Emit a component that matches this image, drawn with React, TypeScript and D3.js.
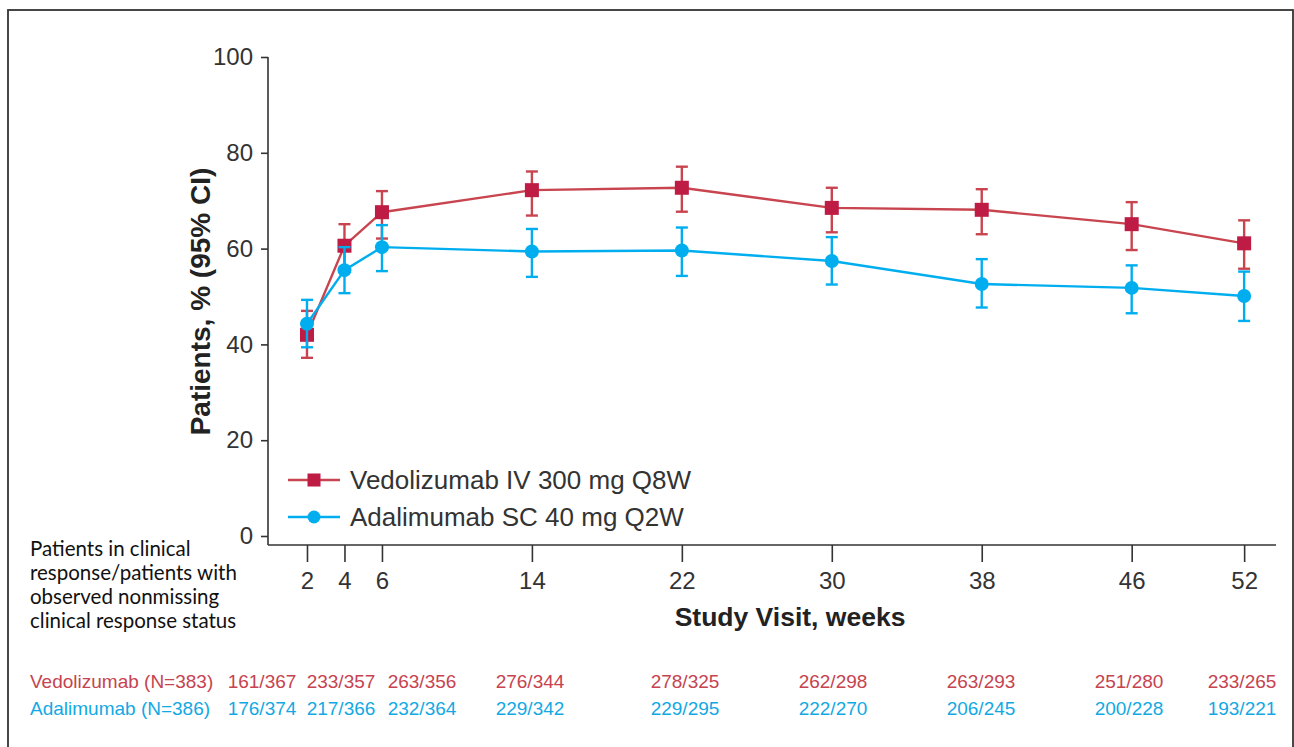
import { useEffect, useRef } from 'react';
import * as d3 from 'd3';

// Chart data
const weeks = [2, 4, 6, 14, 22, 30, 38, 46, 52];
const vedoMean = [42.0, 60.6, 67.6, 72.2, 72.7, 68.5, 68.1, 65.1, 61.1];
const vedoLow = [37.2, 56.0, 62.1, 66.9, 67.7, 63.4, 63.0, 59.7, 55.8];
const vedoHigh = [47.0, 65.1, 72.0, 76.1, 77.1, 72.7, 72.4, 69.7, 65.9];
const adaMean = [44.3, 55.5, 60.3, 59.4, 59.6, 57.4, 52.6, 51.8, 50.1];
const adaLow = [39.4, 50.7, 55.3, 54.1, 54.3, 52.5, 47.7, 46.5, 44.9];
const adaHigh = [49.3, 60.3, 64.9, 64.1, 64.4, 62.4, 57.8, 56.5, 55.2];
const yTicks = [0, 20, 40, 60, 80, 100];
const seriesNames = ['Vedolizumab IV 300 mg Q8W', 'Adalimumab SC 40 mg Q2W'];
const tableLabels = ['Vedolizumab (N=383)', 'Adalimumab (N=386)'];
const vedoCounts = ['161/367', '233/357', '263/356', '276/344', '278/325', '262/298', '263/293', '251/280', '233/265'];
const adaCounts = ['176/374', '217/366', '232/364', '229/342', '229/295', '222/270', '206/245', '200/228', '193/221'];
const noteLines = ['Patients in clinical', 'response/patients with', 'observed nonmissing', 'clinical response status'];

// Layout
const W = 1294;
const H = 747;
const axisX = 268;
const axisY = 545;
const RED = '#be1b45';
const RED_LINE = '#c8454f';
const BLUE = '#00aeef';
const font = 'Liberation Sans, Arial, Helvetica, sans-serif';
// table columns: early visits are spread apart, later ones sit under their ticks
const tableCenters = [262, 341, 422, 530, 685, 833, 981, 1129, 1242];

const x = d3.scaleLinear().domain([0, 53.7]).range([269.5, 1276]);
const y = d3.scaleLinear().domain([0, 100]).range([536, 57]);

const series = [
  { name: seriesNames[0], mean: vedoMean, low: vedoLow, high: vedoHigh, color: RED, line: RED_LINE, shape: 'square' },
  { name: seriesNames[1], mean: adaMean, low: adaLow, high: adaHigh, color: BLUE, line: BLUE, shape: 'circle' },
];

const Marker = ({ cx, cy, shape, color, size }: { cx: number; cy: number; shape: string; color: string; size: number }) =>
  shape === 'square' ? (
    <rect x={cx - size / 2} y={cy - size / 2} width={size} height={size} fill={color} />
  ) : (
    <circle cx={cx} cy={cy} r={size / 2} fill={color} />
  );

const App = () => {
  const xAxisRef = useRef<SVGGElement>(null);
  const yAxisRef = useRef<SVGGElement>(null);

  useEffect(() => {
    if (xAxisRef.current) {
      const g = d3.select(xAxisRef.current);
      g.selectAll('*').remove();
      g.call(d3.axisBottom(x).tickValues(weeks).tickSize(17).tickPadding(10).tickFormat(d3.format('d')));
      g.select('.domain').remove();
      g.selectAll('line').attr('stroke', '#333').attr('stroke-width', 1.6);
      g.selectAll('text').attr('font-size', 24).attr('font-family', font).attr('fill', '#333');
    }
    if (yAxisRef.current) {
      const g = d3.select(yAxisRef.current);
      g.selectAll('*').remove();
      g.call(d3.axisLeft(y).tickValues(yTicks).tickSize(7).tickPadding(8));
      g.select('.domain').remove();
      g.selectAll('line').attr('stroke', '#333').attr('stroke-width', 1.6);
      g.selectAll('text').attr('font-size', 24).attr('font-family', font).attr('fill', '#333');
    }
  }, []);

  const line = d3.line<number>().x((_, i) => x(weeks[i])).y((d) => y(d));

  return (
    <svg width={W} height={H} style={{ position: 'absolute', left: 0, top: 0, background: '#fff' }}>
      <rect x={8} y={10} width={1285} height={760} fill="none" stroke="#333" strokeWidth={1.8} />

      {/* axes */}
      <line x1={axisX} x2={axisX} y1={y(100)} y2={axisY} stroke="#333" strokeWidth={1.6} />
      <line x1={axisX} x2={x.range()[1]} y1={axisY} y2={axisY} stroke="#333" strokeWidth={1.6} />
      <g ref={xAxisRef} transform={`translate(0,${axisY})`} />
      <g ref={yAxisRef} transform={`translate(${axisX},0)`} />

      <text
        transform={`translate(210,${(163 + 440) / 2}) rotate(-90)`}
        textAnchor="middle"
        fontFamily={font}
        fontWeight="bold"
        fontSize={28}
        fill="#222"
      >
        Patients, % (95% CI)
      </text>
      <text x={790} y={626} textAnchor="middle" fontFamily={font} fontWeight="bold" fontSize={26.5} fill="#222">
        Study Visit, weeks
      </text>

      {/* series */}
      {series.map((s) => (
        <g key={s.name}>
          <path d={line(s.mean) || ''} fill="none" stroke={s.line} strokeWidth={2.4} />
          {weeks.map((w, i) => (
            <g key={w} stroke={s.line} strokeWidth={2.4}>
              <line x1={x(w)} x2={x(w)} y1={y(s.low[i])} y2={y(s.high[i])} />
              <line x1={x(w) - 6} x2={x(w) + 6} y1={y(s.low[i])} y2={y(s.low[i])} />
              <line x1={x(w) - 6} x2={x(w) + 6} y1={y(s.high[i])} y2={y(s.high[i])} />
            </g>
          ))}
          {weeks.map((w, i) => (
            <Marker key={w} cx={x(w)} cy={y(s.mean[i])} shape={s.shape} color={s.color} size={14} />
          ))}
        </g>
      ))}

      {/* legend */}
      {series.map((s, i) => (
        <g key={s.name} transform={`translate(288,${480 + i * 37})`}>
          <line x1={0} x2={52} y1={0} y2={0} stroke={s.line} strokeWidth={2.4} />
          <Marker cx={26} cy={0} shape={s.shape} color={s.color} size={13} />
          <text x={62} y={9} fontFamily={font} fontSize={26} fill="#333">
            {s.name}
          </text>
        </g>
      ))}

      {/* note */}
      {noteLines.map((t, i) => (
        <text key={t} x={30} y={556 + i * 24} fontFamily="Lato, Open Sans, sans-serif" fontSize={20.5} fill="#111">
          {t}
        </text>
      ))}

      {/* counts table */}
      {[vedoCounts, adaCounts].map((row, r) => (
        <g key={r} fontFamily={font} fontSize={19} fill={r === 0 ? '#c6434f' : '#12a9e3'}>
          <text x={30} y={688 + r * 27}>
            {tableLabels[r]}
          </text>
          {row.map((c, i) => (
            <text key={i} x={tableCenters[i]} y={688 + r * 27} textAnchor="middle">
              {c}
            </text>
          ))}
        </g>
      ))}
    </svg>
  );
};

export default App;
